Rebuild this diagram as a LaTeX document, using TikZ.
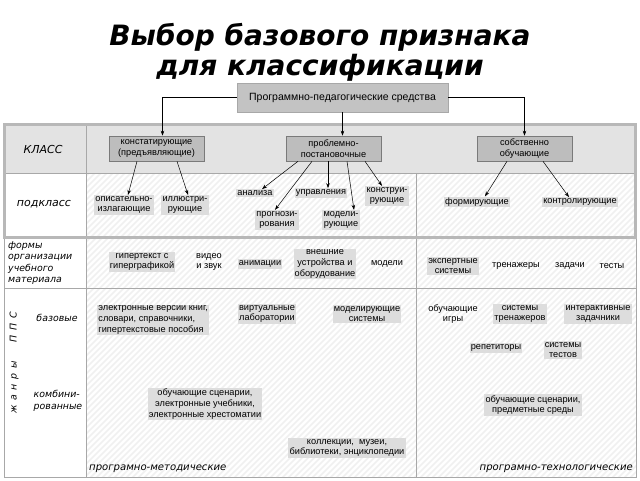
\documentclass[tikz,border=0pt]{standalone}
\usepackage{fontspec}
\setmainfont{Liberation Sans}
\newfontfamily\titlefont{DejaVu Sans}
\newfontfamily\lblfont{DejaVu Sans}
\usetikzlibrary{arrows.meta}
\definecolor{hl}{HTML}{DDDDDD}
\definecolor{boxfill}{HTML}{BDBDBD}
\definecolor{boxdraw}{HTML}{7A7A7A}
\definecolor{topfill}{HTML}{C3C3C3}
\definecolor{rowfill}{HTML}{E3E3E3}
\definecolor{framec}{HTML}{B8B8B8}
\definecolor{gridc}{HTML}{A8A8A8}
\definecolor{hatchc}{HTML}{F0F0F0}
\newcommand{\itemfs}{\fontsize{9.2}{10.6}\selectfont}
\begin{document}
\begin{tikzpicture}[x=1pt,y=-1pt,
  itm/.style={fill=hl, inner sep=1.2pt, align=center, font=\itemfs},
  plain/.style={inner sep=1.2pt, align=center, font=\itemfs},
  clsbox/.style={fill=boxfill, draw=boxdraw, line width=0.6pt, minimum width=95pt, minimum height=25pt, align=center, inner sep=1pt, font=\itemfs},
  topbox/.style={fill=topfill, draw=gridc, line width=0.6pt, minimum width=211pt, minimum height=29pt, font=\fontsize{10.5}{12}\selectfont},
  rowlbl/.style={font=\lblfont\itshape\fontsize{11}{13}\selectfont, inner sep=0pt},
  smlbl/.style={font=\lblfont\itshape\fontsize{9.4}{11.5}\selectfont, inner sep=0pt},
  botlbl/.style={font=\lblfont\itshape\fontsize{10.1}{12}\selectfont, inner sep=0pt},
  conn/.style={line width=0.5pt, -{Stealth[length=5pt,width=3.5pt]}},
  ttl/.style={font=\titlefont\bfseries\itshape\fontsize{28}{32}\selectfont, inner sep=0pt}
]
\useasboundingbox (0,0) rectangle (640,480);
\fill[white] (0,0) rectangle (640,480);

% ---- title
\node[ttl, anchor=base] (t1) at (320,45) {Выбор базового признака};
\node[ttl, anchor=base] (t2) at (320,75) {для классификации};

% ---- backgrounds
\fill[rowfill] (6,126) rectangle (634,173);
\begin{scope}
  \clip (86,173) rectangle (634,236) (86,238) rectangle (636,477);
  \foreach \i in {-500,-494,...,640} {
    \draw[hatchc, line width=1.6pt] (\i,480) -- ++(480,-480);
  }
\end{scope}

% ---- lower table grid
\draw[gridc, line width=0.8pt] (4,238) rectangle (636,477);
\draw[gridc, line width=0.6pt] (4,288) -- (636,288);
\draw[gridc, line width=0.6pt] (86,238) -- (86,477);
\draw[gridc, line width=0.6pt] (416,238) -- (416,477);

% ---- top frame
\draw[gridc, line width=0.6pt] (6,173) -- (634,173);
\draw[gridc, line width=0.6pt] (86,126) -- (86,236);
\draw[gridc, line width=0.6pt] (416,173) -- (416,236);
\draw[framec, line width=3pt] (4.5,124.5) rectangle (635.5,237.5);

% ---- top box and classes
\node[topbox] (top) at (342.5,97.5) {Программно-педагогические средства};
\node[clsbox] (konst) at (156.5,148.5) {констатирующие\\(предъявляющие)};
\node[clsbox] (prob) at (333.5,148.5) {проблемно-\\постановочные};
\node[clsbox] (sob) at (524.5,148.5) {собственно\\обучающие};

\draw[conn] (top.west) -| ([xshift=6pt]konst.north);
\draw[conn] (top.south) -- (top.south |- prob.north);
\draw[conn] (top.east) -| (sob.north);

% ---- row labels
\node[rowlbl] (klass) at (43,149) {КЛАСС};
\node[rowlbl] (podkl) at (44,204) {подкласс};
\node[smlbl, anchor=north west, align=left] (formy) at (8,241) {формы\\организации\\учебного\\материала};
\node[smlbl] (baz) at (57,318) {базовые};
\node[smlbl, rotate=90] (zhanry) at (14,363) {ж\,\,\,а\,\,\,н\,\,\,р\,\,\,ы\qquad П\,\,\,П\,\,\,С};
\node[smlbl, align=left] (komb) at (58,401) {комбини-\\рованные};
\node[botlbl, anchor=west] (pm) at (89,469) {програмно-методические};
\node[botlbl, anchor=east] (pt) at (633,469) {програмно-технологические};

% ---- subclasses
\node[itm] (opis) at (124,205) {описательно-\\излагающие};
\node[itm] (illus) at (185,205) {иллюстри-\\рующие};
\node[itm] (anal) at (255,193) {анализа};
\node[itm] (uprav) at (321,193) {управления};
\node[itm] (konstr) at (387,196) {конструи-\\рующие};
\node[itm] (prog) at (277,220) {прогнози-\\рования};
\node[itm] (model) at (341,220) {модели-\\рующие};
\node[itm] (form) at (477,202) {формирующие};
\node[itm] (kontr) at (580,202) {контролирующие};

\draw[conn] ([xshift=-19.5pt]konst.south) -- ([xshift=4pt]opis.north);
\draw[conn] ([xshift=20.5pt]konst.south) -- ([xshift=3pt]illus.north);
\draw[conn] ([xshift=-35.5pt]prob.south) -- ([xshift=7pt]anal.north);
\draw[conn] ([xshift=-21.5pt]prob.south) -- ([xshift=-2pt]prog.north);
\draw[conn] ([xshift=-5.5pt]prob.south) -- ([xshift=7pt]uprav.north);
\draw[conn] ([xshift=13.5pt]prob.south) -- ([xshift=13pt]model.north);
\draw[conn] ([xshift=31.5pt]prob.south) -- ([xshift=-5pt]konstr.north);
\draw[conn] ([xshift=-17.5pt]sob.south) -- ([xshift=8pt]form.north);
\draw[conn] ([xshift=18.5pt]sob.south) -- ([xshift=-11pt]kontr.north);

% ---- forms row
\node[itm] (gip) at (142,262) {гипертекст с\\гиперграфикой};
\node[plain] (video) at (209,262) {видео\\и звук};
\node[itm] (anim) at (260,264) {анимации};
\node[itm] (vnesh) at (325,264) {внешние\\устройства и\\оборудование};
\node[plain] (modeli) at (387,264) {модели};
\node[itm] (exp) at (453,266) {экспертные\\системы};
\node[plain] (tren) at (516,266) {тренажеры};
\node[plain] (zad) at (570,266) {задачи};
\node[plain] (test) at (612,266) {тесты};

% ---- base genres
\node[itm, align=left, anchor=west] (elk) at (97,320) {электронные версии книг,\\словари, справочники,\\гипертекстовые пособия};
\node[itm] (virt) at (267,314) {виртуальные\\лаборатории};
\node[itm] (modsys) at (367,314) {моделирующие\\системы};
\node[plain] (obig) at (453,314) {обучающие\\игры};
\node[itm] (sistren) at (520,314) {системы\\тренажеров};
\node[itm] (interakt) at (598,314) {интерактивные\\задачники};
\node[itm] (repet) at (496,348) {репетиторы};
\node[itm] (sistest) at (563,350) {системы\\тестов};

% ---- combined genres
\node[itm] (obsc) at (205,404) {обучающие сценарии,\\электронные учебники,\\электронные хрестоматии};
\node[itm] (koll) at (347,448) {коллекции,\ \ музеи,\\библиотеки, энциклопедии};
\node[itm] (obsc2) at (533,405) {обучающие сценарии,\\предметные среды};
\end{tikzpicture}
\end{document}
